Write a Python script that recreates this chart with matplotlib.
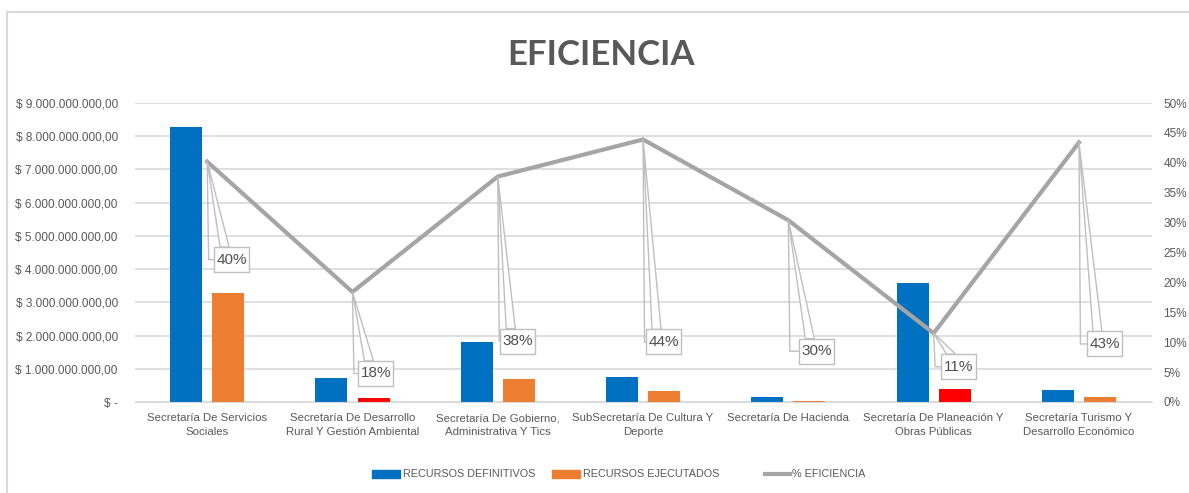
import matplotlib
matplotlib.use("Agg")
import matplotlib.pyplot as plt
import numpy as np
from matplotlib.patches import Rectangle, Polygon
from matplotlib.lines import Line2D

categories = [
    "Secretaría De Servicios\nSociales",
    "Secretaría De Desarrollo\nRural Y Gestión Ambiental",
    "Secretaría De Gobierno,\nAdministrativa Y Tics",
    "SubSecretaría De Cultura Y\nDeporte",
    "Secretaría De Hacienda",
    "Secretaría De Planeación Y\nObras Públicas",
    "Secretaría Turismo Y\nDesarrollo Económico",
]
recursos_definitivos = [8.28e9, 0.72e9, 1.82e9, 0.76e9, 0.14e9, 3.59e9, 0.35e9]
recursos_ejecutados = [3.28e9, 0.13e9, 0.69e9, 0.33e9, 0.04e9, 0.39e9, 0.15e9]
eficiencia = [40.2, 18.4, 37.7, 43.9, 30.4, 11.5, 43.4]
eficiencia_labels = ["40%", "18%", "38%", "44%", "30%", "11%", "43%"]
left_ticks = ["$ -", "$ 1.000.000.000,00", "$ 2.000.000.000,00", "$ 3.000.000.000,00",
              "$ 4.000.000.000,00", "$ 5.000.000.000,00", "$ 6.000.000.000,00",
              "$ 7.000.000.000,00", "$ 8.000.000.000,00", "$ 9.000.000.000,00"]
right_ticks = ["0%", "5%", "10%", "15%", "20%", "25%", "30%", "35%", "40%", "45%", "50%"]
legend_labels = ["RECURSOS DEFINITIVOS", "RECURSOS EJECUTADOS", "% EFICIENCIA"]

# label box offsets in pixels (dx right, dy down) from the line point
label_offsets = [(24.5, 98), (23.5, 81.5), (20, 164.5), (20.5, 202.5),
                 (28.5, 131), (24.5, 33.5), (25.5, 201.5)]

BLUE = "#0070C0"
ORANGE = "#ED7D31"
RED = "#FF0000"
GRAY = "#A5A5A5"
TXT = "#595959"

plt.rcParams['font.family'] = ['Liberation Sans', 'DejaVu Sans']

W, H = 1189, 493
fig = plt.figure(figsize=(W / 100, H / 100), dpi=100)
ax = fig.add_axes([134.5 / W, 1 - 402 / H, (1151.6 - 134.5) / W, (402 - 103) / H])
ax2 = ax.twinx()

n = len(categories)
x = np.arange(n)
bw = 0.22
gap = 0.035
orange_colors = [RED if c in (1, 5) else ORANGE for c in range(n)]
ax.bar(x - bw / 2 - gap, recursos_definitivos, width=bw, color=BLUE, zorder=2)
ax.bar(x + bw / 2 + gap, recursos_ejecutados, width=bw, color=orange_colors, zorder=2)

ax.set_xlim(-0.5, n - 0.5)
ax.set_ylim(0, 9e9)
ax.set_yticks(np.arange(0, 9.01e9, 1e9))
ax.set_yticklabels(left_ticks)
ax.set_xticks(x)
ax.set_xticklabels(categories, linespacing=1.45)
ax.grid(axis='y', color='#D9D9D9', linewidth=1.2, zorder=0)
ax.set_axisbelow(True)
for s in ['top', 'left', 'right']:
    ax.spines[s].set_visible(False)
    ax2.spines[s].set_visible(False)
ax.spines['bottom'].set_color('#D9D9D9')
ax2.spines['bottom'].set_visible(False)
ax.tick_params(axis='y', length=0, labelsize=8.5, labelcolor=TXT, pad=12)
ax.tick_params(axis='x', length=0, labelsize=8.2, labelcolor=TXT, pad=8)

ax2.set_ylim(0, 50)
ax2.set_yticks(np.arange(0, 51, 5))
ax2.set_yticklabels(right_ticks)
ax2.tick_params(axis='y', length=0, labelsize=8.5, labelcolor=TXT, pad=8.5)
ax2.plot(x, eficiencia, color=GRAY, linewidth=3, zorder=3, solid_joinstyle='miter')

fig.canvas.draw()
inv = ax2.transData.inverted()
bwpx, bhpx = 35, 25
for i, (v, lab, (dx, dy)) in enumerate(zip(eficiencia, eficiencia_labels, label_offsets)):
    px, py = ax2.transData.transform((i, v))
    cx, cy = px + dx, py - dy
    left = cx - bwpx / 2
    top = cy + bhpx / 2
    bottom = cy - bhpx / 2
    pts_wedge = [(px, py), (left + 6, top), (left + 15, top)]
    pts_line = [(px, py), (px + 1.5, cy), (left, cy)]
    wedge = Polygon([inv.transform(p) for p in pts_wedge], closed=True,
                    facecolor='white', edgecolor='#BFBFBF', linewidth=1, zorder=4)
    ax2.add_patch(wedge)
    lp = np.array([inv.transform(p) for p in pts_line])
    ax2.plot(lp[:, 0], lp[:, 1], color='#BFBFBF', linewidth=1, zorder=4)
    bl = inv.transform((left, bottom))
    tr = inv.transform((left + bwpx, top))
    ax2.add_patch(Rectangle(bl, tr[0] - bl[0], tr[1] - bl[1], facecolor='white',
                            edgecolor='#BFBFBF', linewidth=1, zorder=5))
    cc = inv.transform((cx, cy))
    ax2.text(cc[0], cc[1], lab, ha='center', va='center', fontsize=11,
             color='#505050', zorder=6)

fig.text(601 / W, 1 - 55 / H, "EFICIENCIA", ha='center', va='center', fontsize=25,
         fontweight='bold', color=TXT, family=['Lato', 'DejaVu Sans'])

# legend drawn manually
ly = 1 - 474 / H
hsz = 8 / H
fig.add_artist(Rectangle((372 / W, ly - hsz / 2), 28 / W, hsz, color=BLUE, transform=fig.transFigure))
fig.add_artist(Rectangle((552 / W, ly - hsz / 2), 28 / W, hsz, color=ORANGE, transform=fig.transFigure))
fig.add_artist(Line2D([765 / W, 790 / W], [ly, ly], color=GRAY, linewidth=3, transform=fig.transFigure))
for xx, lab in zip([403, 583, 792], legend_labels):
    fig.text(xx / W, ly, lab, ha='left', va='center', fontsize=7.8, color=TXT)

fig.add_artist(Line2D([6.5 / W, 1], [1 - 11.5 / H, 1 - 11.5 / H], color='#D9D9D9',
                      linewidth=1.5, transform=fig.transFigure))
fig.add_artist(Line2D([6.5 / W, 6.5 / W], [0, 1 - 11.5 / H], color='#D9D9D9',
                      linewidth=1.5, transform=fig.transFigure))

fig.savefig("out.png", dpi=100, facecolor='white')
